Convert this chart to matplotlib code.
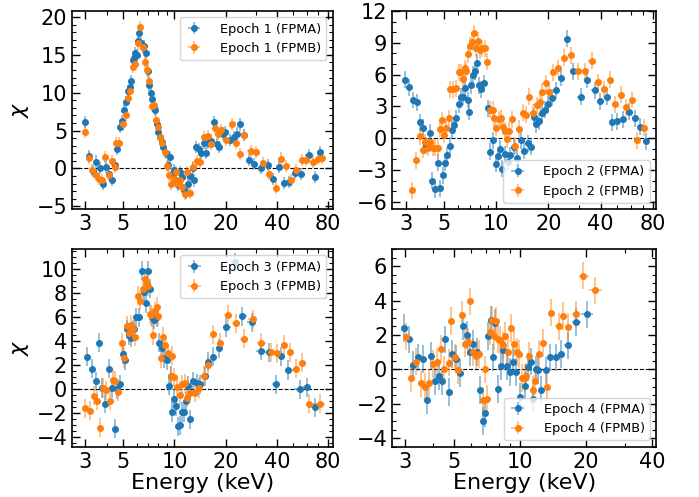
import numpy as np
import matplotlib
matplotlib.use("Agg")
import matplotlib.pyplot as plt
from matplotlib.ticker import FixedLocator, NullFormatter, MultipleLocator, LogLocator

# ---- Epoch 1 ----
e1a_E = [3.00, 3.13, 3.30, 3.47, 3.63, 3.80, 3.97, 4.13, 4.29, 4.45, 4.59, 4.77, 4.93, 5.07, 5.20,
         5.33, 5.45, 5.52, 5.69, 5.80, 5.89, 6.02, 6.12, 6.20, 6.32, 6.50, 6.66, 6.81, 6.95, 7.10,
         7.25, 7.40, 7.54, 7.67, 7.84, 8.01, 8.17, 8.40, 8.60, 8.90, 9.15, 9.45, 9.70, 9.95, 10.2,
         10.5, 10.8, 11.1, 11.4, 11.7, 12.0, 12.4, 12.8, 13.1, 13.4, 14.0, 14.4, 14.9, 15.3, 15.8,
         16.4, 17.1, 17.7, 18.3, 19.2, 19.9, 21.2, 22.4, 23.2, 24.4, 25.6, 27.4, 29.4, 32.3, 35.4,
         38.0, 40.9, 44.1, 47.2, 50.7, 55.0, 62.0, 66.5, 71.1]
e1a_chi = [6.1, 1.6, -0.3, 0.9, 0.0, -2.0, 0.2, -0.8, -1.5, 0.5, 2.6, 5.5, 6.3, 7.7, 8.8,
           10.2, 10.8, 11.5, 14.3, 14.6, 15.3, 15.0, 16.8, 17.9, 16.6, 16.0, 16.2, 15.3, 12.8, 11.0,
           10.0, 9.2, 8.1, 7.7, 5.9, 4.8, 4.1, 3.5, 2.8, 2.0, 0.4, 1.5, -0.8, -0.2, -1.5,
           -2.2, -0.5, -1.2, -2.9, -3.2, -2.0, -1.0, 0.0, -1.6, 2.8, 2.6, 2.0, 3.4, 2.0, 3.3,
           3.6, 6.1, 3.2, 2.8, 4.6, 4.8, 3.7, 4.2, 4.6, 5.8, 4.4, 1.1, 0.6, 0.0, 0.4,
           -1.4, 0.2, -1.9, -1.8, -0.6, -0.7, 1.7, -1.1, 2.2]
e1b_E = [3.00, 3.13, 3.28, 3.47, 3.60, 3.75, 3.90, 4.10, 4.30, 4.45, 4.55, 4.75, 5.00, 5.20, 5.30,
         5.48, 5.72, 5.90, 6.10, 6.30, 6.55, 6.70, 6.90, 7.05, 7.40, 7.55, 7.80, 8.00, 8.20, 8.50,
         8.75, 9.00, 9.30, 9.60, 9.90, 10.2, 10.5, 10.8, 11.0, 11.5, 11.9, 12.3, 12.85, 13.6, 14.2,
         15.0, 15.8, 16.4, 17.3, 18.0, 18.8, 20.0, 21.9, 23.0, 24.4, 25.7, 28.0, 30.2, 33.2, 36.1,
         39.3, 42.3, 45.2, 48.3, 51.5, 55.8, 59.5, 65.0, 70.0, 74.0]
e1b_chi = [4.8, 1.4, -0.2, -0.9, -1.4, -1.6, 1.5, -0.9, 1.0, 0.2, 3.4, 3.3, 5.8, 7.1, 9.3,
           10.2, 13.4, 13.8, 16.5, 18.7, 16.0, 14.0, 13.0, 11.5, 8.3, 8.4, 6.4, 5.4, 4.1, 3.3,
           2.2, 0.3, -0.9, -2.1, -1.4, -0.5, -2.1, -1.6, -2.5, -3.4, -0.5, -3.3, 0.2, 1.0, 0.8,
           4.1, 4.3, 3.2, 5.3, 4.6, 5.1, 3.7, 5.9, 3.3, 1.9, 4.4, 2.3, 2.2, 0.7, -0.7,
           -2.6, 1.3, 0.3, -1.6, -0.2, 1.1, 1.1, 0.9, 1.2, 1.4]

# ---- Epoch 2 ----
e2a_E = [2.98, 3.13, 3.31, 3.46, 3.61, 3.77, 3.94, 4.11, 4.26, 4.45, 4.58, 4.74, 4.89, 5.06, 5.21,
         5.38, 5.56, 5.70, 5.85, 6.06, 6.28, 6.45, 6.60, 6.83, 6.96, 7.15, 7.34, 7.55, 7.71, 7.90,
         8.20, 8.50, 8.90, 9.20, 9.50, 9.90, 10.2, 10.5, 10.8, 11.2, 11.6, 12.0, 12.6, 13.2, 13.9,
         14.5, 15.2, 15.9, 16.4, 17.0, 17.6, 18.3, 19.1, 20.0, 21.0, 22.1, 23.6, 25.6, 27.7, 30.7,
         33.5, 37.0, 39.9, 43.4, 46.5, 49.8, 54.0, 58.2, 62.9, 68.0, 72.8]
e2a_chi = [5.5, 4.8, 3.6, 3.4, 1.5, 1.0, -0.7, 0.5, -4.0, -4.8, -2.3, -4.7, -3.5, -2.3, -1.6,
           -0.7, 0.8, 1.2, 1.9, 3.2, 3.9, 3.9, 4.7, 3.6, 2.5, 5.0, 6.0, 6.3, 7.1, 5.0,
           4.6, 5.2, 2.8, -1.3, -0.2, -2.4, -1.7, -1.0, -2.9, -1.5, -2.2, -1.6, -0.8, -1.9, -0.2,
           -1.2, -0.5, -0.8, 2.0, 1.3, 1.6, 2.4, 2.7, 3.2, 3.8, 4.5, 5.7, 9.4, 6.3, 3.9,
           5.5, 4.5, 3.5, 3.9, 1.5, 1.6, 1.8, 2.5, 1.9, 1.1, -0.3]
e2b_E = [3.27, 3.43, 3.60, 3.75, 3.88, 4.02, 4.15, 4.30, 4.45, 4.58, 4.73, 4.87, 5.00, 5.14, 5.30,
         5.43, 5.60, 5.85, 6.05, 6.25, 6.40, 6.55, 6.70, 6.83, 7.05, 7.25, 7.44, 7.65, 7.85, 8.05,
         8.30, 8.60, 8.80, 9.20, 9.50, 9.75, 10.0, 10.3, 10.6, 10.9, 11.2, 11.5, 11.8, 12.3, 12.8,
         13.5, 14.2, 14.8, 15.4, 16.2, 17.1, 17.8, 18.4, 19.3, 20.2, 21.3, 22.7, 24.6, 27.0, 29.7,
         32.6, 35.5, 38.5, 41.8, 45.2, 48.3, 52.2, 56.1, 60.5, 65.2, 70.8]
e2b_chi = [-4.9, -2.1, 0.2, -1.1, -0.4, -0.9, -0.4, -0.9, -0.9, -0.9, 0.9, 1.7, 0.3, 1.0, 1.9,
           4.6, 4.6, 4.7, 6.2, 6.2, 5.6, 6.6, 6.3, 7.9, 8.7, 9.1, 9.9, 8.5, 9.2, 8.3,
           8.5, 8.5, 7.2, 2.7, 2.7, 1.9, 1.0, 1.8, 1.9, 1.1, 0.7, -0.1, 0.7, 1.8, -0.7,
           0.9, 2.4, 2.2, 3.9, 2.4, 3.1, 3.4, 4.4, 5.2, 4.4, 6.2, 6.6, 7.6, 7.8, 6.3,
           6.3, 7.3, 5.3, 4.6, 5.5, 3.2, 4.1, 2.9, 3.6, -0.2, 1.0]

# ---- Epoch 3 ----
e3a_E = [3.05, 3.28, 3.44, 3.60, 3.76, 3.93, 4.12, 4.31, 4.45, 4.60, 4.77, 4.99, 5.13, 5.27, 5.42,
         5.57, 5.78, 5.98, 6.20, 6.45, 6.65, 6.80, 6.95, 7.15, 7.40, 7.62, 7.85, 8.10, 8.40, 8.70,
         9.00, 9.30, 9.50, 9.73, 10.0, 10.2, 10.5, 10.8, 11.1, 11.4, 11.7, 12.0, 12.4, 12.9, 13.5,
         14.2, 15.1, 15.8, 16.9, 18.3, 20.2, 22.6, 25.0, 28.4, 32.2, 35.8, 39.4, 42.5, 46.3, 54.5,
         59.9, 66.8]
e3a_chi = [2.7, 1.7, 0.65, 3.9, 0.1, -1.2, 1.7, 0.1, -3.3, 0.0, 0.4, 2.9, 2.4, 5.0, 4.5,
           4.3, 5.0, 6.0, 6.0, 9.9, 8.1, 7.2, 9.9, 8.4, 6.0, 5.8, 6.0, 3.9, 3.4, 2.6,
           2.4, 0.3, 1.1, -1.9, -0.8, -1.4, -3.1, -3.0, -1.9, -1.9, -1.0, 0.3, -2.5, 0.65, 0.5,
           0.4, 1.1, 2.3, 2.7, 3.4, 5.2, 10.6, 6.1, 5.6, 3.2, 3.1, 0.4, 2.75, 1.6, 0.0,
           0.15, -1.5]
e3b_E = [3.00, 3.18, 3.36, 3.50, 3.67, 3.80, 3.98, 4.20, 4.35, 4.50, 4.65, 4.90, 5.05, 5.25, 5.40,
         5.55, 5.70, 5.88, 6.07, 6.28, 6.50, 6.70, 6.85, 7.00, 7.15, 7.30, 7.50, 7.70, 7.90, 8.05,
         8.30, 8.60, 8.85, 9.15, 9.50, 9.70, 10.0, 10.4, 10.8, 11.1, 11.5, 11.9, 12.4, 13.2, 14.0,
         15.0, 15.8, 16.9, 18.5, 20.7, 23.1, 25.6, 28.8, 32.4, 36.9, 40.1, 43.9, 47.4, 51.9, 56.3,
         62.0, 71.6]
e3b_chi = [-1.6, -1.8, -0.55, -0.95, -3.2, 0.1, -0.1, -0.95, 0.8, 0.7, -0.2, 3.9, 2.6, 5.3, 4.7,
           5.4, 5.0, 4.4, 7.8, 7.4, 8.4, 9.2, 8.9, 8.6, 6.3, 6.2, 4.5, 6.5, 6.9, 6.1,
           2.6, 4.4, 3.7, 3.0, 1.1, 2.8, 1.0, 0.2, -0.5, 0.4, 0.5, -0.7, -0.3, -0.3, 0.1,
           1.1, 2.0, 4.6, 3.9, 6.2, 5.5, 4.2, 5.85, 3.9, 3.1, 3.0, 3.7, 3.1, 1.7, 2.2,
           -1.2, -1.2]

# ---- Epoch 4 ----
e4a_E = [2.97, 3.14, 3.27, 3.45, 3.61, 3.79, 3.93, 4.10, 4.26, 4.43, 4.57, 4.74, 4.91, 5.10, 5.34,
         5.53, 5.72, 5.92, 6.12, 6.35, 6.57, 6.76, 6.94, 7.15, 7.35, 7.54, 7.73, 7.94, 8.20, 8.40,
         8.70, 9.00, 9.25, 9.60, 10.0, 10.5, 10.9, 11.2, 11.4, 11.8, 12.1, 12.5, 13.1, 13.7, 14.5,
         15.3, 16.5, 17.9, 20.2]
e4a_chi = [2.4, 1.75, 0.25, 0.7, 0.6, -1.8, 0.8, -0.7, -0.4, -0.7, 1.75, -1.3, 0.9, 0.6, -0.2,
           2.5, 2.0, 1.0, 1.5, 1.0, -1.2, -3.0, -2.55, 1.95, 2.9, 0.7, 2.7, -1.15, 0.2, 1.1,
           0.2, -0.15, 0.45, -0.15, -1.6, -0.95, 0.15, 0.45, -1.7, 0.0, -0.05, -1.2, -0.05, 0.7, 0.7,
           0.9, 1.4, 2.75, 3.2]
e4b_E = [3.03, 3.19, 3.36, 3.53, 3.69, 3.85, 4.03, 4.21, 4.36, 4.52, 4.73, 4.87, 5.04, 5.22, 5.43,
         5.61, 5.77, 5.94, 6.10, 6.31, 6.49, 6.78, 6.94, 7.10, 7.29, 7.45, 7.58, 7.74, 7.90, 8.10,
         8.35, 8.58, 8.80, 9.10, 9.40, 9.65, 9.90, 10.2, 10.5, 10.7, 11.0, 11.4, 11.7, 12.2, 12.7,
         13.3, 13.9, 15.0, 15.7, 16.6, 17.9, 19.3, 22.0]
e4b_chi = [1.9, -0.5, 0.45, -0.8, -1.0, -0.8, 0.3, 0.45, 1.2, 0.0, 0.4, 2.8, 0.7, -0.05, 3.15,
           1.5, 1.6, 3.95, 1.0, 0.8, 0.9, -1.8, 0.0, -1.7, 2.2, 2.9, 1.95, 2.8, 1.75, 1.7,
           1.4, 1.95, 1.0, 2.4, 1.5, 1.0, 0.9, -0.5, -0.5, -0.4, 0.8, -1.2, -0.7, 0.9, 1.55,
           -1.05, 3.3, 2.5, 3.1, 2.45, 3.2, 5.45, 4.6]

panels = [
    ("Epoch 1", e1a_E, e1a_chi, e1b_E, e1b_chi),
    ("Epoch 2", e2a_E, e2a_chi, e2b_E, e2b_chi),
    ("Epoch 3", e3a_E, e3a_chi, e3b_E, e3b_chi),
    ("Epoch 4", e4a_E, e4a_chi, e4b_E, e4b_chi),
]
xlims = [(2.5, 85), (2.5, 84), (2.5, 85), (2.62, 41.7)]
ylims = [(-5.4, 20.8), (-6.7, 12.0), (-4.8, 11.7), (-4.5, 7.0)]
yticks = [[-5, 0, 5, 10, 15, 20], [-6, -3, 0, 3, 6, 9, 12], [-4, -2, 0, 2, 4, 6, 8, 10], [-4, -2, 0, 2, 4, 6]]
yminor = [1, 1, 0.5, 0.5]
xticks = [[3, 5, 10, 20, 40, 80]] * 3 + [[3, 5, 10, 20, 40]]
legloc = ["upper right", "lower right", "upper right", "lower right"]
yerr = 0.8


def bin_err(E):
    # half-widths from log-midpoints between neighbouring bins
    E = np.asarray(E)
    edges = np.sqrt(E[1:] * E[:-1])
    lo = np.concatenate([[E[0] ** 2 / edges[0]], edges])
    hi = np.concatenate([edges, [E[-1] ** 2 / edges[-1]]])
    return np.vstack([E - lo, hi - E])


fig = plt.figure(figsize=(6.99, 4.97), dpi=100)
rects = [(0.103, 0.579, 0.373, 0.399), (0.561, 0.579, 0.378, 0.399),
         (0.103, 0.101, 0.373, 0.398), (0.561, 0.101, 0.378, 0.398)]

for i, (name, ea, ca, eb, cb) in enumerate(panels):
    ax = fig.add_axes(rects[i])
    ax.axhline(0, color="k", ls="--", lw=0.8, zorder=1)
    for E, c, col, lab in [(ea, ca, "C0", "FPMA"), (eb, cb, "C1", "FPMB")]:
        eb_ = ax.errorbar(E, c, xerr=bin_err(E), yerr=yerr, fmt="o", ms=4, color=col,
                          elinewidth=1.2, label=f"{name} ({lab})", zorder=2)
        for lc in eb_[2]:
            lc.set_alpha(0.55)
    ax.set_xscale("log")
    ax.set_xlim(*xlims[i])
    ax.set_ylim(*ylims[i])
    ax.xaxis.set_major_locator(FixedLocator(xticks[i]))
    ax.set_xticklabels([str(t) for t in xticks[i]])
    ax.xaxis.set_minor_locator(LogLocator(base=10, subs=np.arange(2, 10)))
    ax.xaxis.set_minor_formatter(NullFormatter())
    ax.set_yticks(yticks[i])
    ax.yaxis.set_minor_locator(MultipleLocator(yminor[i]))
    ax.tick_params(which="both", direction="in", top=True, right=True, labelsize=15)
    ax.tick_params(which="major", length=6, width=1)
    ax.tick_params(which="minor", length=3, width=0.8)
    for s in ax.spines.values():
        s.set_linewidth(1.2)
    leg = ax.legend(loc=legloc[i], fontsize=9.3, framealpha=0.8, handlelength=1.4,
                    handletextpad=1.3)
    leg.set_zorder(5)
    if i in (0, 2):
        ax.set_ylabel(r"$\chi$", fontsize=16)
    if i in (2, 3):
        ax.set_xlabel("Energy (keV)", fontsize=16, labelpad=1)

fig.savefig("out.png", dpi=100)
